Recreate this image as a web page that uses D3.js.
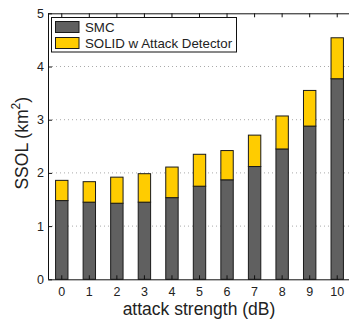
<!DOCTYPE html>
<html><head><meta charset="utf-8">
<script src="https://cdn.jsdelivr.net/npm/d3@7"></script>
<style>body{margin:0;background:#fff}svg{display:block;font-family:"Liberation Sans",Arial,sans-serif}</style>
</head><body>
<script>
const categories = ["0","1","2","3","4","5","6","7","8","9","10"];
const smc   = [1.48,1.45,1.43,1.45,1.535,1.75,1.87,2.12,2.45,2.88,3.77];
const solid = [0.38,0.385,0.49,0.535,0.575,0.60,0.55,0.59,0.62,0.67,0.77];
const yTicks = [0,1,2,3,4,5];
const seriesNames = ["SMC","SOLID w Attack Detector"];
const colors = ["#606060","#ffcc00"];

const W=349,H=321;
const m={l:48,t:13.3,r:-2,b:41.7};
const svg=d3.select("body").append("svg").attr("width",W).attr("height",H);
const x=d3.scaleBand().domain(categories).range([m.l,W-m.r]).paddingInner(0.55).paddingOuter(0.275);
const y=d3.scaleLinear().domain([0,5]).range([H-m.b,m.t]);

// grid
svg.append("g").selectAll("line").data(yTicks.slice(1,-1)).join("line")
  .attr("x1",m.l).attr("x2",W-m.r).attr("y1",d=>y(d)).attr("y2",d=>y(d))
  .attr("stroke","#aaa").attr("stroke-width",1).attr("stroke-dasharray","1,3");

const rows=categories.map((c,i)=>({cat:c,SMC:smc[i],"SOLID w Attack Detector":solid[i]}));
const stacked=d3.stack().keys(seriesNames)(rows);
svg.append("g").selectAll("g").data(stacked).join("g").attr("fill",(d,i)=>colors[i])
  .selectAll("rect").data(d=>d).join("rect")
  .attr("x",d=>x(d.data.cat)).attr("width",x.bandwidth())
  .attr("y",d=>y(d[1])).attr("height",d=>y(d[0])-y(d[1]))
  .attr("stroke","#1a1a1a").attr("stroke-width",1);

// axes
const ax=svg.append("g").attr("transform",`translate(0,${H-m.b})`)
  .call(d3.axisBottom(x).tickSizeInner(-4).tickSizeOuter(0).tickPadding(8));
const axT=svg.append("g").attr("transform",`translate(0,${m.t})`)
  .call(d3.axisTop(x).tickSizeInner(-4).tickSizeOuter(0).tickFormat(""));
const ay=svg.append("g").attr("transform",`translate(${m.l},0)`)
  .call(d3.axisLeft(y).tickValues(yTicks).tickFormat(d3.format("d")).tickSizeInner(-4).tickSizeOuter(0).tickPadding(4));
[ax,axT,ay].forEach(g=>{g.selectAll("path,line").attr("stroke","#111").attr("stroke-width",1);
  g.selectAll("text").attr("font-size",12.5).attr("fill","#222").attr("font-family","Liberation Sans,Arial,sans-serif");});
ay.select(".domain").attr("d",`M0.5,${y(0)}V${y(5)}`);

svg.append("text").attr("x",199).attr("y",315).attr("text-anchor","middle")
  .attr("font-size",17.5).attr("fill","#222").text("attack strength (dB)");
const yl=svg.append("text").attr("transform",`translate(28,${(m.t+H-m.b)/2-3}) rotate(-90)`)
  .attr("text-anchor","middle").attr("font-size",17.5).attr("fill","#222");
yl.append("tspan").text("SSOL (km");
yl.append("tspan").attr("font-size",12).attr("dy",-8).text("2");
yl.append("tspan").attr("dy",8).text(")");

// legend
const lg=svg.append("g");
lg.append("rect").attr("x",51.5).attr("y",17.5).attr("width",185).attr("height",34.5)
  .attr("fill","#fff").attr("stroke","#111").attr("stroke-width",1);
seriesNames.forEach((n,i)=>{
  const yy=21+i*16;
  lg.append("rect").attr("x",55.5).attr("y",yy+0.5).attr("width",23.5).attr("height",11)
    .attr("fill",colors[i]).attr("stroke","#1a1a1a");
  lg.append("text").attr("x",85).attr("y",yy+10.5).attr("font-size",13.3).attr("fill","#222").text(n);
});
</script>
</body></html>
